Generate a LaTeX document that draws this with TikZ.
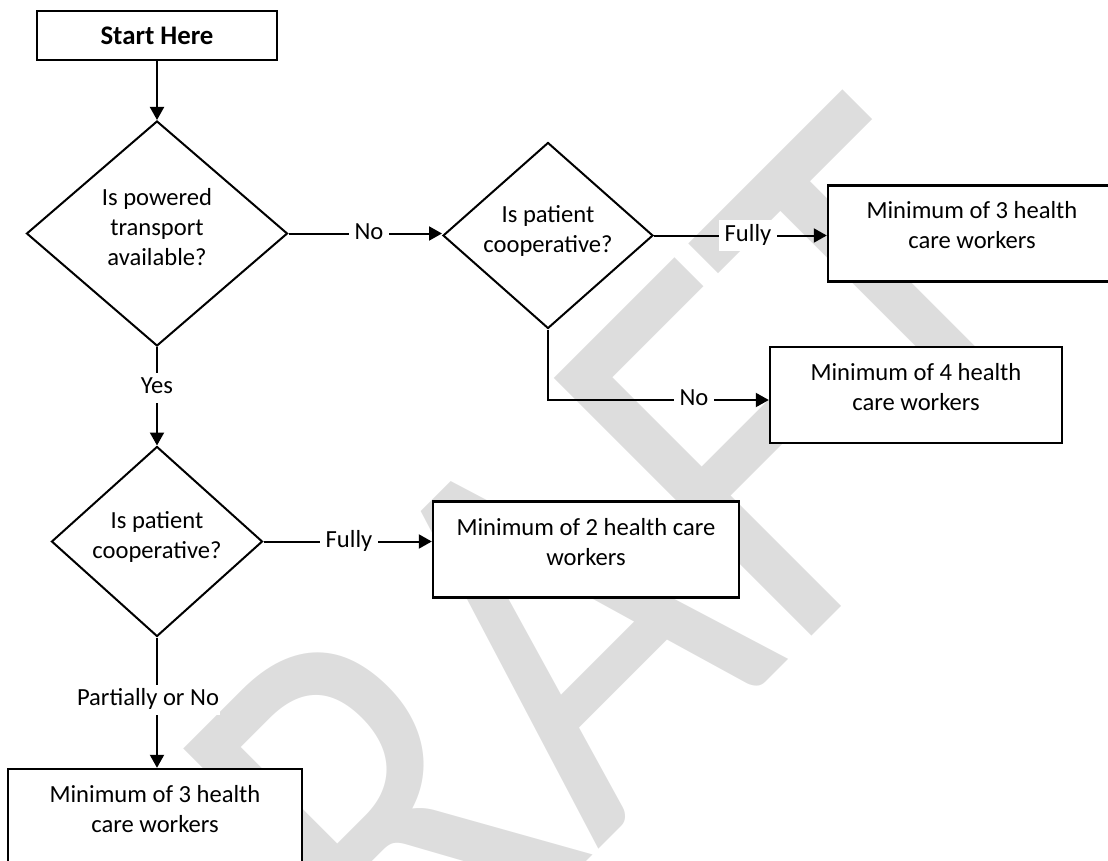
\documentclass[tikz,border=0pt]{standalone}
\usepackage{fontspec}
\setmainfont{Carlito}
\usetikzlibrary{shapes.geometric,arrows.meta,calc}
\definecolor{wmark}{RGB}{221,221,221}
% centred lines of text, lifted a little inside their frame
\newcommand\stacked[2]{\raisebox{#1}[\height][\depth]{\begin{tabular}{@{}c@{}}#2\end{tabular}}}

\begin{document}
\begin{tikzpicture}[x=1pt,y=-1pt,
  every node/.style={font=\fontsize{24.6}{30}\selectfont},
  startbox/.style={draw, line width=2.4pt, fill=white, minimum width=240pt,
    minimum height=49pt, inner sep=0pt, font=\fontsize{26.8}{32}\selectfont\bfseries},
  outcome/.style={draw, line width=2.4pt, fill=white, inner sep=0pt, minimum height=96pt},
  decision/.style={draw, diamond, line width=2pt, fill=white, inner sep=0pt},
  flow/.style={line width=2pt, -{Triangle[length=13pt,width=14pt]}},
  tag/.style={fill=white, inner ysep=0pt, inner xsep=6pt, minimum height=30pt,
    text height=16pt, text depth=5pt}
]
\useasboundingbox (0,0) rectangle (1108,861);

% watermark
\node[anchor=base west, rotate=45, xscale=4.7, yscale=5.68, text=wmark,
  inner sep=0pt, font=\fontsize{100}{100}\selectfont] (draft) at (212,1236) {DRAFT};

% steps and decisions
\node[startbox] (start) at (157,35.5) {Start Here};
\node[decision, minimum width=261pt, minimum height=225pt, aspect=1.16] (q1) at (157,233.5)
  {\stacked{4pt}{Is powered\\transport\\available?}};
\node[decision, minimum width=210pt, minimum height=186pt, aspect=1.13] (q2) at (548,235.5)
  {\stacked{4pt}{Is patient\\cooperative?}};
\node[decision, minimum width=211pt, minimum height=190pt, aspect=1.11] (q3) at (157,541.5)
  {\stacked{4pt}{Is patient\\cooperative?}};
\node[outcome, minimum width=288pt] (r3a) at (972,233.5)
  {\stacked{5.5pt}{Minimum of 3 health\\care workers}};
\node[outcome, minimum width=292pt] (r4) at (916,395)
  {\stacked{5.5pt}{Minimum of 4 health\\care workers}};
\node[outcome, minimum width=306pt] (r2) at (586,549.5)
  {\stacked{5.5pt}{Minimum of 2 health care\\workers}};
\node[outcome, minimum width=294pt] (r3b) at (155,817)
  {\stacked{5.5pt}{Minimum of 3 health\\care workers}};

% connectors
\draw[flow] (start) -- (q1);
\draw[flow] (q1.east) -- (q1.east -| q2.west);
\draw[flow] (q2.east) -- (q2.east -| r3a.west);
\draw[flow] (q2.south) |- ($(r4.west)+(0,5)$);
\draw[flow] (q1.south) -- (q3.north);
\draw[flow] (q3.east) -- (q3.east -| r2.west);
\draw[flow] (q3.south) -- (q3.south |- r3b.north);

% connector labels
\node[tag] (lno1) at (369,233.5) {No};
\node[tag] (lfully1) at (748,235.5) {Fully};
\node[tag] (lno2) at (694,400) {No};
\node[tag] (lyes) at (157,387.5) {Yes};
\node[tag] (lfully2) at (349,541.5) {Fully};
\node[tag, inner xsep=1pt] (lpart) at (148,700) {Partially or No};
\end{tikzpicture}
\end{document}
